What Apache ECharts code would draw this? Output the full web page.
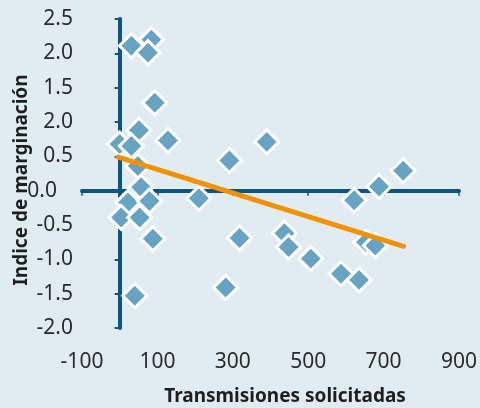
<!DOCTYPE html>
<html>
<head>
<meta charset="utf-8">
<script src="https://cdn.jsdelivr.net/npm/echarts@6/dist/echarts.min.js"></script>
<style>
  html, body { margin: 0; padding: 0; background: #e1ebf2; }
  #chart { width: 480px; height: 408px; }
</style>
</head>
<body>
<div id="chart"></div>
<script>
// transmisiones solicitadas (eje x)
var transmisiones = [31, 84, 75, 93, 51, 128, 0, 31, 48, 57, 22, 79, 4, 53, 88, 40,
    210, 291, 390, 318, 281, 622, 688, 752, 437, 448, 507, 587, 635, 653, 678];
// indice de marginacion (eje y)
var indice = [2.11, 2.20, 2.01, 1.28, 0.88, 0.73, 0.68, 0.65, 0.36, 0.05, -0.17, -0.15, -0.39, -0.39, -0.70, -1.53,
    -0.11, 0.44, 0.71, -0.69, -1.41, -0.14, 0.06, 0.29, -0.62, -0.82, -0.99, -1.21, -1.30, -0.75, -0.80];
// recta de tendencia (extremos)
var trendX = [-4, 753];
var trendY = [0.49, -0.81];
// marcas de los ejes
var xTicks = [-100, 100, 300, 500, 700, 900];
var yTicks = [-2, -1.5, -1, -0.5, 0, 0.5, 1, 1.5, 2, 2.5];
var yTickLabels = ['-2.0', '-1.5', '-1.0', '-0.5', '0.0', '0.5', '2.0', '1.5', '2.0', '2.5'];

var axisColor = '#0b5486';
var labelFont = { fontFamily: 'Noto Sans', fontSize: 21, color: '#2b2b2b' };

var points = transmisiones.map(function (x, i) { return [x, indice[i]]; });
var trend = trendX.map(function (x, i) { return [x, trendY[i]]; });

var myChart = echarts.init(document.getElementById('chart'));

myChart.setOption({
    backgroundColor: '#e1ebf2',
    animation: false,
    grid: { left: 82, right: 20, top: 19, bottom: 80 },
    xAxis: [
        {
            type: 'value',
            min: -100,
            max: 900,
            axisLine: { onZero: true, lineStyle: { color: axisColor, width: 4 } },
            axisTick: { show: true, customValues: xTicks, length: 5, lineStyle: { color: axisColor, width: 1.5 } },
            axisLabel: { show: false },
            splitLine: { show: false }
        },
        {
            type: 'value',
            min: -100,
            max: 900,
            position: 'bottom',
            axisLine: { show: false, onZero: false },
            axisTick: { show: false },
            axisLabel: {
                customValues: xTicks,
                margin: 24,
                fontFamily: labelFont.fontFamily,
                fontSize: labelFont.fontSize,
                color: labelFont.color
            },
            splitLine: { show: false }
        }
    ],
    yAxis: {
        type: 'value',
        min: -2,
        max: 2.5,
        interval: 0.5,
        axisLine: { onZero: true, lineStyle: { color: axisColor, width: 4 } },
        axisTick: { show: true, length: 5, lineStyle: { color: axisColor, width: 2 } },
        axisLabel: {
            margin: 9,
            fontFamily: labelFont.fontFamily,
            fontSize: labelFont.fontSize,
            color: labelFont.color,
            formatter: function (v) {
                var idx = yTicks.indexOf(v);
                var txt = idx >= 0 ? yTickLabels[idx] : '';
                return v === 0 ? '{z|' + txt + '}' : txt;
            },
            rich: {
                z: {
                    fontFamily: labelFont.fontFamily,
                    fontSize: labelFont.fontSize,
                    color: labelFont.color,
                    padding: [0, 16, 0, 0]
                }
            }
        },
        splitLine: { show: false }
    },
    graphic: [
        {
            type: 'text',
            x: 22,
            y: 180,
            rotation: Math.PI / 2,
            style: {
                text: 'Indice de marginación',
                fontFamily: 'Noto Sans',
                fontWeight: 'bold',
                fontSize: 19,
                fill: '#1e1e1e',
                align: 'center',
                verticalAlign: 'middle'
            }
        },
        {
            type: 'text',
            x: 285,
            y: 397,
            style: {
                text: 'Transmisiones solicitadas',
                fontFamily: 'Noto Sans',
                fontWeight: 'bold',
                fontSize: 19,
                fill: '#1e1e1e',
                align: 'center',
                verticalAlign: 'middle'
            }
        }
    ],
    series: [
        {
            type: 'scatter',
            xAxisIndex: 0,
            data: points,
            symbol: 'diamond',
            symbolSize: 24,
            itemStyle: {
                color: '#67a3c3',
                borderColor: '#ffffff',
                borderWidth: 3,
                opacity: 1
            }
        },
        {
            type: 'line',
            xAxisIndex: 0,
            data: trend,
            symbol: 'none',
            lineStyle: { color: '#f39200', width: 5, cap: 'round' },
            z: 3
        }
    ]
});
</script>
</body>
</html>
